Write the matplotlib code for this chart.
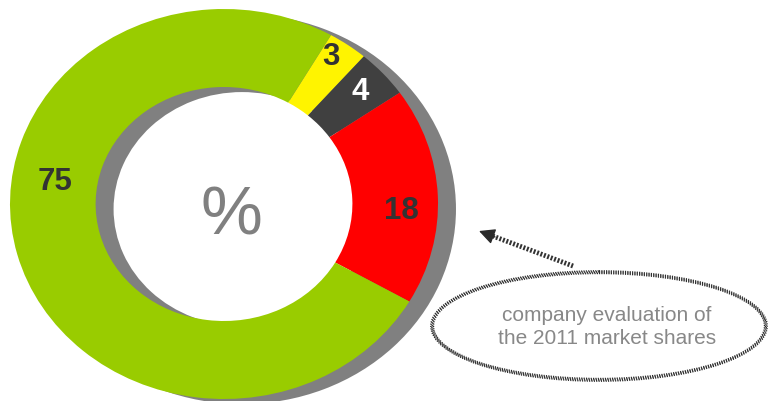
import numpy as np
import matplotlib
matplotlib.use("Agg")
import matplotlib.pyplot as plt
from matplotlib.patches import Ellipse

plt.rcParams['font.family'] = ['Liberation Sans', 'DejaVu Sans']

# market shares in percent, clockwise from the yellow slice
shares = [3, 4, 18, 75]
share_colors = ['#FFF400', '#404040', '#FF0000', '#99CC00']
label_colors = ['#333333', '#FFFFFF', '#333333', '#333333']
callout_text = "company evaluation of\nthe 2011 market shares"

# label placement: radius and angular nudge from the wedge middle
label_radius = [0.91, 0.86, 0.83, 0.80]
label_shift = [2, 0.5, -4.5, -23.5]

W, H = 768, 402
fig = plt.figure(figsize=(W / 100, H / 100), dpi=100)
fig.patch.set_facecolor('white')

# donut axes: one unit = 214 px horizontally, 195 px vertically
cx, cy, rx, ry = 224, 205, 214, 195
ax = fig.add_axes([0, 0, 1, 1])
ring = dict(width=0.4, linewidth=0)

# drop shadow ring
ax.pie([1], colors=['#808080'], radius=1, center=(0.084, -0.026),
       wedgeprops=ring, startangle=60)
wedges, _ = ax.pie(shares, colors=share_colors, radius=1, startangle=60,
                   counterclock=False, wedgeprops=ring)

ax.set_aspect('auto')
ax.set_xlim(-cx / rx, (W - cx) / rx)
ax.set_ylim((cy - H) / ry, cy / ry)
ax.axis('off')

start = 60.0
total = sum(shares)
for val, col, r, shift in zip(shares, label_colors, label_radius, label_shift):
    span = 360.0 * val / total
    mid = np.deg2rad(start - span / 2 + shift)
    ax.text(r * np.cos(mid), r * np.sin(mid), str(val), color=col,
            fontsize=22.5, fontweight='bold', ha='center', va='center')
    start -= span

ax.text(0.035, -0.06, '%', color='#808080', fontsize=50,
        ha='center', va='center')

# callout in pixel coordinates
ov = fig.add_axes([0, 0, 1, 1])
ov.set_xlim(0, W)
ov.set_ylim(H, 0)
ov.axis('off')
ov.patch.set_alpha(0)

for grow in (0, 1.8, 3.6, 5.4):
    ov.add_patch(Ellipse((599, 327), 331 + grow, 105 + grow, fill=False,
                         edgecolor='#2a2a2a', lw=1.0, linestyle=(0, (0.8, 0.9))))

ov.text(607, 327, callout_text, color='#888888', fontsize=15,
        ha='center', va='center', linespacing=1.25)

# dotted arrow shaft plus a solid head
ov.plot([573, 490], [267, 236], color='#333333', lw=3.5,
        linestyle=(0, (0.4, 0.35)))
ov.annotate('', xy=(479, 232), xytext=(495, 238),
            arrowprops=dict(arrowstyle='-|>', color='#2a2a2a', lw=1,
                            mutation_scale=24, shrinkA=0, shrinkB=0))

fig.savefig('out.png', dpi=100)
